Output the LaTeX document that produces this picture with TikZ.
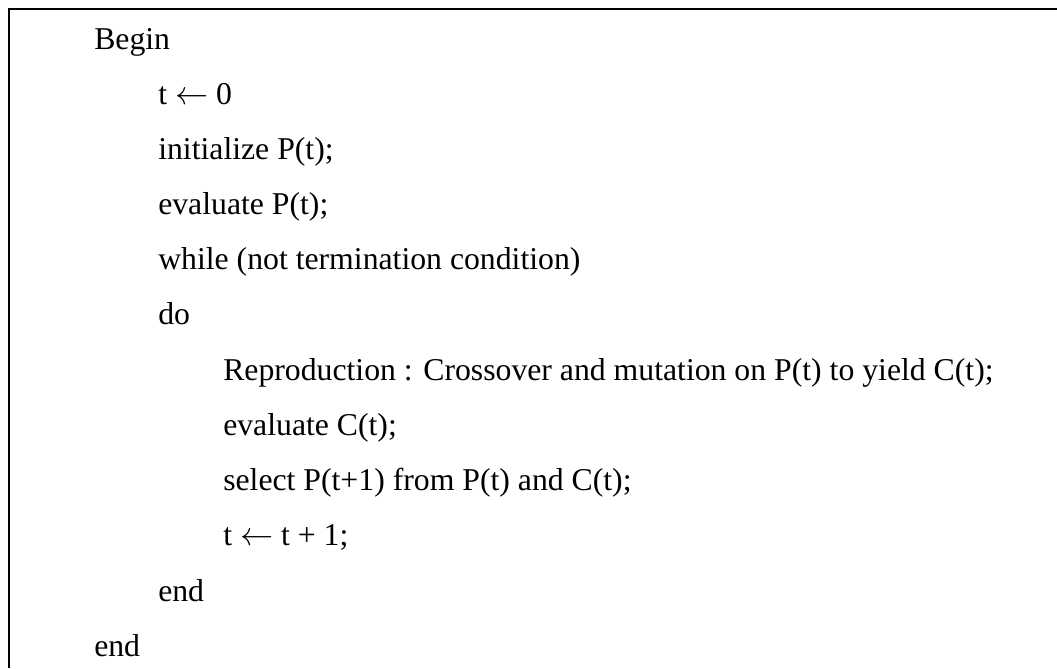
\documentclass[tikz,border=0pt]{standalone}
\usepackage{fontspec}
\setmainfont{Liberation Serif}
\begin{document}
\begin{tikzpicture}[x=0.75pt,y=-0.75pt,
  code/.style={anchor=base west,inner sep=0pt,font=\fontsize{23.8}{28}\selectfont},
  frame/.style={line width=1.2pt,draw=black}]
\useasboundingbox (0,0) rectangle (1057,668);
\draw[frame] (1057,9) -- (9,9) -- (9,668);
\node[code] (l1)  at (94,49)  {Begin};
\node[code] (l2)  at (158,104) {t $\leftarrow$ 0};
\node[code] (l3)  at (158,159) {initialize P(t);};
\node[code] (l4)  at (158,214) {evaluate P(t);};
\node[code] (l5)  at (158,269) {while (not termination condition)};
\node[code] (l6)  at (158,324) {do};
\node[code] (l7)  at (223,380) {Reproduction : Crossover and mutation on P(t) to yield C(t);};
\node[code] (l8)  at (223,435) {evaluate C(t);};
\node[code] (l9)  at (223,490) {select P(t+1) from P(t) and C(t);};
\node[code] (l10) at (223,545) {t $\leftarrow$ t + 1;};
\node[code] (l11) at (158,601) {end};
\node[code] (l12) at (94,656) {end};
\end{tikzpicture}
\end{document}
